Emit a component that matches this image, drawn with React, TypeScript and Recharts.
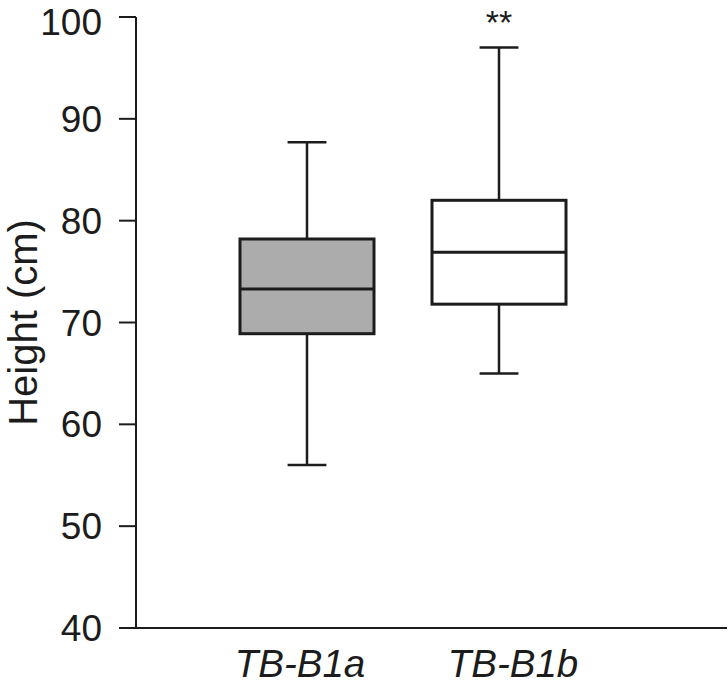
import { ComposedChart, Bar, XAxis, YAxis, LabelList } from "recharts";

// box-plot summary per group (cm)
const groups = ["TB-B1a", "TB-B1b"];
const mins = [56.0, 65.0];
const q1s = [68.9, 71.8];
const medians = [73.3, 76.9];
const q3s = [78.2, 82.0];
const maxs = [87.7, 97.0];
const fills = ["#acacac", "#ffffff"];
const marks = ["", "**"];
const yTicks = [40, 50, 60, 70, 80, 90, 100];

const INK = "#1c1c1c";
const FONT = "'Liberation Sans', Arial, sans-serif";

const data = groups.map((g, i) => ({
  group: g,
  range: [mins[i], maxs[i]],
  min: mins[i],
  q1: q1s[i],
  median: medians[i],
  q3: q3s[i],
  max: maxs[i],
  fill: fills[i],
  mark: marks[i],
}));

// draws whiskers, caps, box and median inside the bar's min..max extent
function BoxShape(props: any) {
  const { x, y, width, height, payload } = props;
  const lo = payload.min;
  const hi = payload.max;
  const toY = (v: number) => y + ((hi - v) / (hi - lo)) * height;
  const cx = x + width / 2;
  const cap = width * 0.145;
  const yMax = toY(hi);
  const yMin = toY(lo);
  const yQ3 = toY(payload.q3);
  const yQ1 = toY(payload.q1);
  const yMed = toY(payload.median);
  return (
    <g>
      <line x1={cx} x2={cx} y1={yMax} y2={yQ3} stroke={INK} strokeWidth={2.5} />
      <line x1={cx} x2={cx} y1={yQ1} y2={yMin} stroke={INK} strokeWidth={2.5} />
      <line x1={cx - cap} x2={cx + cap} y1={yMax} y2={yMax} stroke={INK} strokeWidth={2.5} />
      <line x1={cx - cap} x2={cx + cap} y1={yMin} y2={yMin} stroke={INK} strokeWidth={2.5} />
      <rect x={x} y={yQ3} width={width} height={yQ1 - yQ3} fill={payload.fill} stroke={INK} strokeWidth={3} />
      <line x1={x} x2={x + width} y1={yMed} y2={yMed} stroke={INK} strokeWidth={3} />
    </g>
  );
}

// category labels sit slightly off the box centres in the original
function GroupTick(props: any) {
  const { x, y, payload, index } = props;
  const shift = index === 0 ? -7 : 14;
  return (
    <text
      x={x + shift}
      y={y}
      dy="0.71em"
      textAnchor="middle"
      fontSize={38.5}
      fontStyle="italic"
      fontFamily={FONT}
      fill={INK}
    >
      {payload.value}
    </text>
  );
}

export default function App() {
  return (
    <div style={{ position: "absolute", left: 0, top: 0, background: "#fff" }}>
      <ComposedChart
        width={728}
        height={684}
        data={data}
        margin={{ top: 17, right: 1, bottom: 0, left: 0 }}
      >
        <XAxis
          dataKey="group"
          height={56}
          padding={{ left: 75, right: 132 }}
          axisLine={{ stroke: INK, strokeWidth: 2 }}
          tickLine={false}
          tickSize={0}
          tickMargin={22}
          tick={<GroupTick />}
        />
        <YAxis
          width={136}
          domain={[40, 100]}
          ticks={yTicks}
          type="number"
          allowDataOverflow
          axisLine={{ stroke: INK, strokeWidth: 2 }}
          tickLine={{ stroke: INK, strokeWidth: 2 }}
          tickSize={17}
          tickMargin={17}
          tick={{ fontSize: 37, fill: INK, fontFamily: FONT }}
          label={{
            content: ({ viewBox }: any) => {
              const lx = (viewBox?.x ?? 0) + 23;
              const ly = (viewBox?.y ?? 17) + (viewBox?.height ?? 611) / 2;
              return (
                <text
                  x={lx}
                  y={ly}
                  transform={`rotate(-90, ${lx}, ${ly})`}
                  textAnchor="middle"
                  dominantBaseline="central"
                  fontSize={40}
                  fill={INK}
                  fontFamily={FONT}
                >
                  Height (cm)
                </text>
              );
            },
          }}
        />
        <Bar dataKey="range" barSize={134} shape={<BoxShape />} isAnimationActive={false}>
          <LabelList
            dataKey="mark"
            position="top"
            offset={14}
            fontSize={34}
            fill={INK}
            fontFamily={FONT}
          />
        </Bar>
      </ComposedChart>
    </div>
  );
}
